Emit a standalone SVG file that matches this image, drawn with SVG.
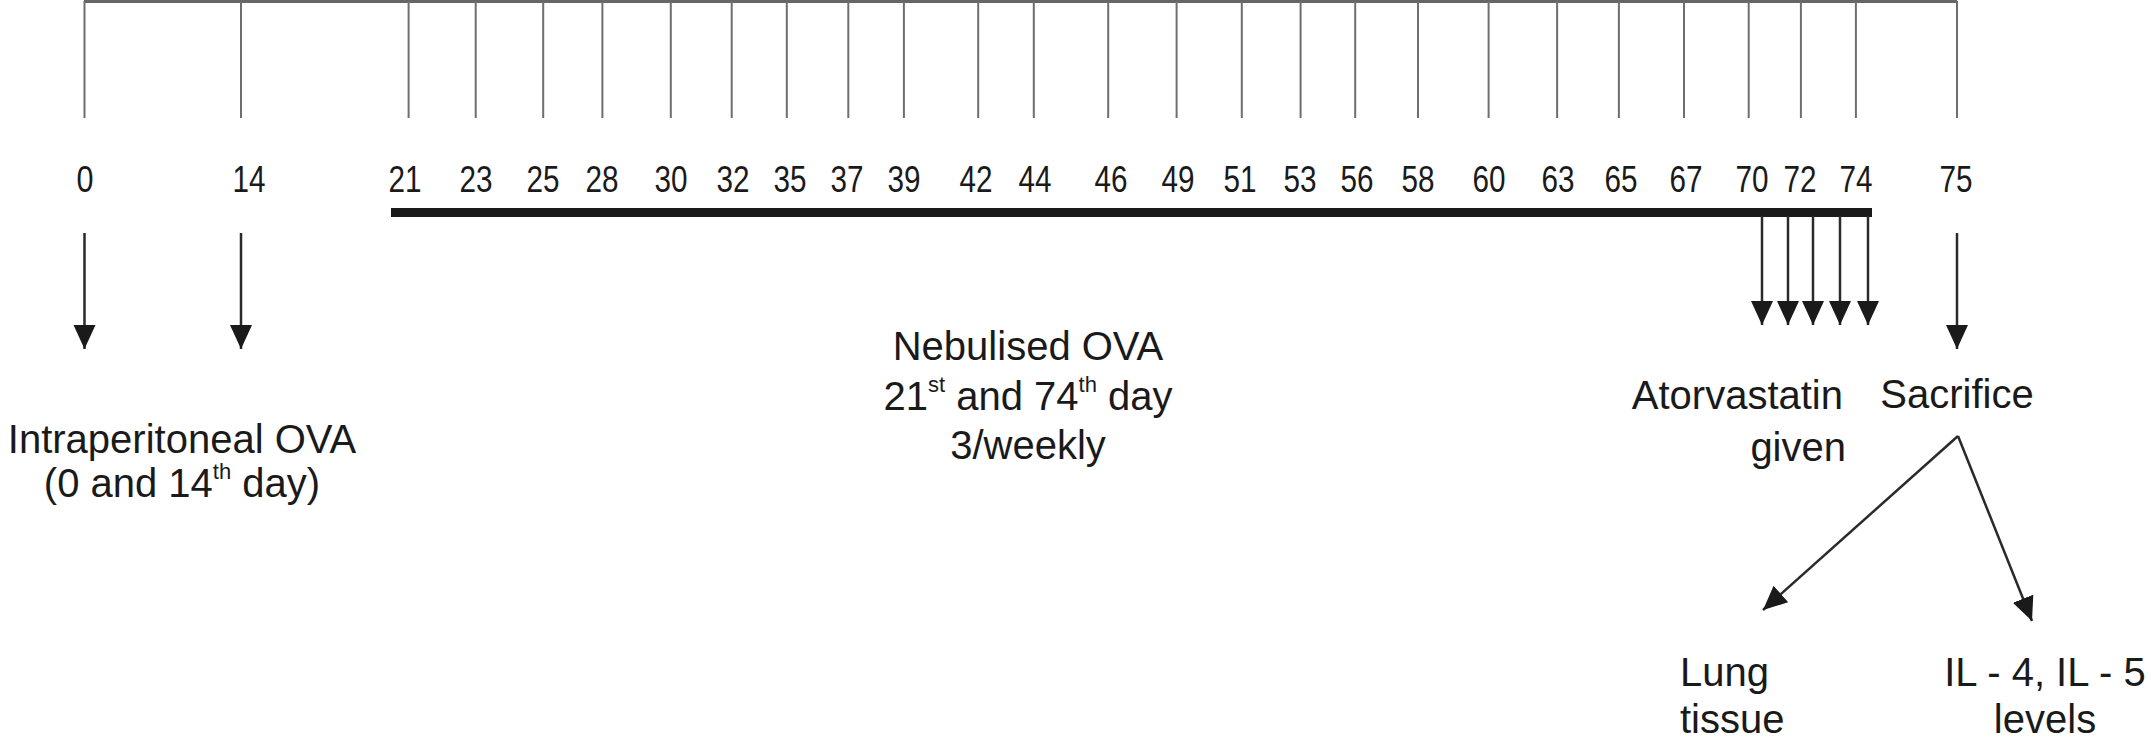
<svg xmlns="http://www.w3.org/2000/svg" width="2151" height="744" viewBox="0 0 2151 744">
<style>
.tick{stroke:#6e6e6e;stroke-width:2;fill:none}
.axis{stroke:#666;stroke-width:3;fill:none}
.arr{stroke:#2a2a2a;stroke-width:2.5;fill:none;marker-end:url(#ah)}
.num{font-family:"Liberation Sans",Arial,sans-serif;font-size:36px;fill:#1a1a1a;text-anchor:middle}
.lbl{font-family:"Liberation Sans",Arial,sans-serif;font-size:40px;fill:#1a1a1a}
.sup{font-size:22px}
</style>
<defs>
<marker id="ah" markerUnits="userSpaceOnUse" markerWidth="24" markerHeight="24" refX="24" refY="12" orient="auto">
<path d="M0,1 L24,12 L0,23 Z" fill="#1a1a1a"/>
</marker>
</defs>
<rect width="2151" height="744" fill="#fff"/>
<g id="timeline">
<line class="axis" x1="84" y1="1.5" x2="1957" y2="1.5"/>
<g class="ticks">
<line class="tick" x1="84.5" y1="1" x2="84.5" y2="118"/>
<line class="tick" x1="241" y1="1" x2="241" y2="118"/>
<line class="tick" x1="408.6" y1="1" x2="408.6" y2="118"/>
<line class="tick" x1="475.7" y1="1" x2="475.7" y2="118"/>
<line class="tick" x1="543.2" y1="1" x2="543.2" y2="118"/>
<line class="tick" x1="602.4" y1="1" x2="602.4" y2="118"/>
<line class="tick" x1="670.8" y1="1" x2="670.8" y2="118"/>
<line class="tick" x1="731.7" y1="1" x2="731.7" y2="118"/>
<line class="tick" x1="786.8" y1="1" x2="786.8" y2="118"/>
<line class="tick" x1="848.3" y1="1" x2="848.3" y2="118"/>
<line class="tick" x1="903.9" y1="1" x2="903.9" y2="118"/>
<line class="tick" x1="978.2" y1="1" x2="978.2" y2="118"/>
<line class="tick" x1="1033.8" y1="1" x2="1033.8" y2="118"/>
<line class="tick" x1="1108.2" y1="1" x2="1108.2" y2="118"/>
<line class="tick" x1="1176.6" y1="1" x2="1176.6" y2="118"/>
<line class="tick" x1="1241.8" y1="1" x2="1241.8" y2="118"/>
<line class="tick" x1="1300.6" y1="1" x2="1300.6" y2="118"/>
<line class="tick" x1="1355.2" y1="1" x2="1355.2" y2="118"/>
<line class="tick" x1="1418" y1="1" x2="1418" y2="118"/>
<line class="tick" x1="1488.6" y1="1" x2="1488.6" y2="118"/>
<line class="tick" x1="1557.1" y1="1" x2="1557.1" y2="118"/>
<line class="tick" x1="1618.9" y1="1" x2="1618.9" y2="118"/>
<line class="tick" x1="1684" y1="1" x2="1684" y2="118"/>
<line class="tick" x1="1748.7" y1="1" x2="1748.7" y2="118"/>
<line class="tick" x1="1800.9" y1="1" x2="1800.9" y2="118"/>
<line class="tick" x1="1855.9" y1="1" x2="1855.9" y2="118"/>
<line class="tick" x1="1957" y1="1" x2="1957" y2="118"/>
</g>
<g class="labels">
<text class="num" x="85" y="192" textLength="17" lengthAdjust="spacingAndGlyphs">0</text>
<text class="num" x="249" y="192" textLength="33" lengthAdjust="spacingAndGlyphs">14</text>
<text class="num" x="405" y="192" textLength="33" lengthAdjust="spacingAndGlyphs">21</text>
<text class="num" x="476" y="192" textLength="33" lengthAdjust="spacingAndGlyphs">23</text>
<text class="num" x="543" y="192" textLength="33" lengthAdjust="spacingAndGlyphs">25</text>
<text class="num" x="602" y="192" textLength="33" lengthAdjust="spacingAndGlyphs">28</text>
<text class="num" x="671" y="192" textLength="33" lengthAdjust="spacingAndGlyphs">30</text>
<text class="num" x="733" y="192" textLength="33" lengthAdjust="spacingAndGlyphs">32</text>
<text class="num" x="790" y="192" textLength="33" lengthAdjust="spacingAndGlyphs">35</text>
<text class="num" x="847" y="192" textLength="33" lengthAdjust="spacingAndGlyphs">37</text>
<text class="num" x="904" y="192" textLength="33" lengthAdjust="spacingAndGlyphs">39</text>
<text class="num" x="976" y="192" textLength="33" lengthAdjust="spacingAndGlyphs">42</text>
<text class="num" x="1035" y="192" textLength="33" lengthAdjust="spacingAndGlyphs">44</text>
<text class="num" x="1111" y="192" textLength="33" lengthAdjust="spacingAndGlyphs">46</text>
<text class="num" x="1178" y="192" textLength="33" lengthAdjust="spacingAndGlyphs">49</text>
<text class="num" x="1240" y="192" textLength="33" lengthAdjust="spacingAndGlyphs">51</text>
<text class="num" x="1300" y="192" textLength="33" lengthAdjust="spacingAndGlyphs">53</text>
<text class="num" x="1357" y="192" textLength="33" lengthAdjust="spacingAndGlyphs">56</text>
<text class="num" x="1418" y="192" textLength="33" lengthAdjust="spacingAndGlyphs">58</text>
<text class="num" x="1489" y="192" textLength="33" lengthAdjust="spacingAndGlyphs">60</text>
<text class="num" x="1558" y="192" textLength="33" lengthAdjust="spacingAndGlyphs">63</text>
<text class="num" x="1621" y="192" textLength="33" lengthAdjust="spacingAndGlyphs">65</text>
<text class="num" x="1686" y="192" textLength="33" lengthAdjust="spacingAndGlyphs">67</text>
<text class="num" x="1752" y="192" textLength="33" lengthAdjust="spacingAndGlyphs">70</text>
<text class="num" x="1800" y="192" textLength="33" lengthAdjust="spacingAndGlyphs">72</text>
<text class="num" x="1856" y="192" textLength="33" lengthAdjust="spacingAndGlyphs">74</text>
<text class="num" x="1956" y="192" textLength="33" lengthAdjust="spacingAndGlyphs">75</text>
</g>
</g>
<g id="nebulisation-bar">
<rect x="391" y="208" width="1481" height="9" fill="#1a1a1a"/>
</g>
<g id="connectors">
<line class="arr" x1="84.5" y1="233" x2="84.5" y2="349"/>
<line class="arr" x1="241" y1="233" x2="241" y2="349"/>
<line class="arr" x1="1762" y1="216" x2="1762" y2="325"/>
<line class="arr" x1="1788" y1="216" x2="1788" y2="325"/>
<line class="arr" x1="1813" y1="216" x2="1813" y2="325"/>
<line class="arr" x1="1840" y1="216" x2="1840" y2="325"/>
<line class="arr" x1="1868" y1="216" x2="1868" y2="325"/>
<line class="arr" x1="1957" y1="233" x2="1957" y2="349"/>
<line class="arr" x1="1958" y1="436" x2="1763" y2="610"/>
<line class="arr" x1="1958" y1="436" x2="2032" y2="621"/>
</g>
<g id="intraperitoneal">
<text class="lbl" x="182" y="453" text-anchor="middle">Intraperitoneal OVA</text>
<text class="lbl" x="182" y="497" text-anchor="middle">(0 and 14<tspan class="sup" dy="-18">th</tspan><tspan dy="18"> day)</tspan></text>
</g>
<g id="nebulised">
<text class="lbl" x="1028" y="360" text-anchor="middle">Nebulised OVA</text>
<text class="lbl" x="1028" y="410" text-anchor="middle">21<tspan class="sup" dy="-18">st</tspan><tspan dy="18"> and 74</tspan><tspan class="sup" dy="-18">th</tspan><tspan dy="18"> day</tspan></text>
<text class="lbl" x="1028" y="459" text-anchor="middle">3/weekly</text>
</g>
<g id="atorvastatin">
<text class="lbl" x="1843" y="409" text-anchor="end">Atorvastatin</text>
<text class="lbl" x="1846" y="461" text-anchor="end">given</text>
</g>
<g id="sacrifice">
<text class="lbl" x="1957" y="408" text-anchor="middle">Sacrifice</text>
</g>
<g id="lung-tissue">
<text class="lbl" x="1680" y="686" text-anchor="start">Lung</text>
<text class="lbl" x="1680" y="733" text-anchor="start">tissue</text>
</g>
<g id="il-levels">
<text class="lbl" x="2045" y="686" text-anchor="middle">IL - 4, IL - 5</text>
<text class="lbl" x="2045" y="733" text-anchor="middle">levels</text>
</g>
</svg>
